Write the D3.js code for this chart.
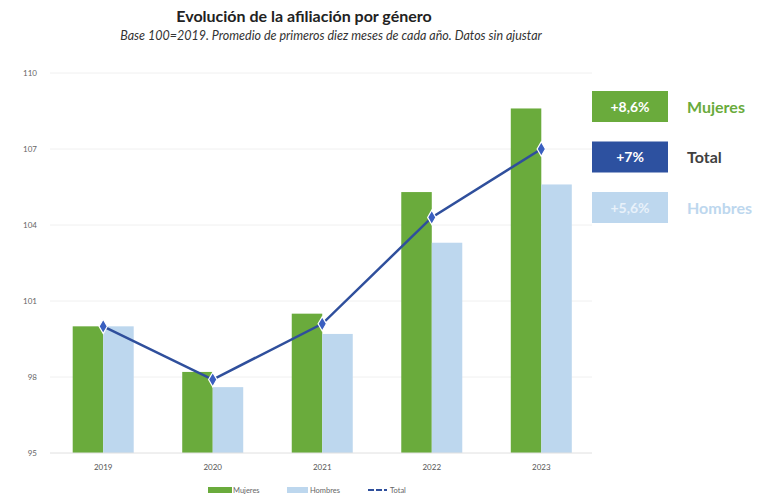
<!DOCTYPE html>
<html>
<head>
<meta charset="utf-8">
<script src="https://cdn.jsdelivr.net/npm/d3@7"></script>
<style>
  body { margin: 0; background: #fff; }
  text { font-family: Lato, "Open Sans", sans-serif; }
</style>
</head>
<body>
<svg id="chart" width="781" height="503"></svg>
<script>
var years = ['2019', '2020', '2021', '2022', '2023']
var mujeres = [100.0, 98.2, 100.5, 105.3, 108.6]
var hombres = [100.0, 97.6, 99.7, 103.3, 105.6]
var total = [100.0, 97.9, 100.1, 104.3, 107.0]
var yTicks = [95, 98, 101, 104, 107, 110]
var badges = [
  { value: '+8,6%', label: 'Mujeres', box: '#6aab3c', text: '#6aab3c', fg: '#fff' },
  { value: '+7%', label: 'Total', box: '#2d51a0', text: '#404040', fg: '#fff' },
  { value: '+5,6%', label: 'Hombres', box: '#bdd7ee', text: '#bdd7ee', fg: '#e8f1fa' }
]

var green = '#6aab3c'
var lightBlue = '#bdd7ee'
var darkBlue = '#2f4f9c'

var svg = d3.select('#chart')

var x = d3.scaleBand().domain(years).range([48.5, 596]).paddingInner(0.443).paddingOuter(0.221)
var sub = d3.scaleBand().domain(['m', 'h']).range([0, x.bandwidth()])
var y = d3.scaleLinear().domain([95, 110]).range([453, 73])

// title
svg.append('text').attr('x', 304).attr('y', 22).attr('text-anchor', 'middle')
  .attr('font-size', 16).attr('font-weight', 'bold').attr('fill', '#222')
  .text('Evolución de la afiliación por género')
svg.append('text').attr('x', 331).attr('y', 40).attr('text-anchor', 'middle')
  .attr('font-size', 12.5).attr('font-style', 'italic').attr('fill', '#333')
  .text('Base 100=2019. Promedio de primeros diez meses de cada año. Datos sin ajustar')

// grid
svg.append('g').selectAll('line').data(yTicks.slice(1)).enter().append('line')
  .attr('x1', 50).attr('x2', 592)
  .attr('y1', function (d) { return y(d) }).attr('y2', function (d) { return y(d) })
  .attr('stroke', '#f0f0f0').attr('stroke-width', 1)

// y axis labels
svg.append('g').selectAll('text').data(yTicks).enter().append('text')
  .attr('x', 37).attr('y', function (d) { return y(d) + 3 })
  .attr('text-anchor', 'end').attr('font-size', 8).attr('fill', '#666')
  .text(function (d) { return d })

// bars
var groups = svg.append('g').selectAll('g').data(years).enter().append('g')
  .attr('transform', function (d) { return 'translate(' + x(d) + ',0)' })
groups.append('rect')
  .attr('x', sub('m')).attr('width', sub.bandwidth())
  .attr('y', function (d, i) { return y(mujeres[i]) })
  .attr('height', function (d, i) { return y(95) - y(mujeres[i]) })
  .attr('fill', green)
groups.append('rect')
  .attr('x', sub('h')).attr('width', sub.bandwidth())
  .attr('y', function (d, i) { return y(hombres[i]) })
  .attr('height', function (d, i) { return y(95) - y(hombres[i]) })
  .attr('fill', lightBlue)

// baseline
svg.append('line').attr('x1', 50).attr('x2', 592).attr('y1', y(95)).attr('y2', y(95))
  .attr('stroke', '#e0e0e0')

// x labels
svg.append('g').selectAll('text').data(years).enter().append('text')
  .attr('x', function (d) { return x(d) + x.bandwidth() / 2 }).attr('y', 470)
  .attr('text-anchor', 'middle').attr('font-size', 8).attr('fill', '#555')
  .text(function (d) { return d })

// total line
var line = d3.line()
  .x(function (d, i) { return x(years[i]) + x.bandwidth() / 2 })
  .y(function (d) { return y(d) })
svg.append('path').datum(total).attr('d', line)
  .attr('fill', 'none').attr('stroke', darkBlue).attr('stroke-width', 2.5)
svg.append('g').selectAll('path').data(total).enter().append('path')
  .attr('d', d3.symbol().type(d3.symbolDiamond).size(60))
  .attr('transform', function (d, i) { return 'translate(' + (x(years[i]) + x.bandwidth() / 2) + ',' + y(d) + ')' })
  .attr('fill', '#3a5fc0').attr('stroke', '#fff').attr('stroke-width', 1.2)

// right badges
var badge = svg.append('g').selectAll('g').data(badges).enter().append('g')
  .attr('transform', function (d, i) { return 'translate(592,' + (91 + i * 50.5) + ')' })
badge.append('rect').attr('width', 76).attr('height', 31).attr('fill', function (d) { return d.box })
badge.append('text').attr('x', 38).attr('y', 20.5).attr('text-anchor', 'middle')
  .attr('font-size', 14).attr('font-weight', 'bold').attr('fill', function (d) { return d.fg })
  .text(function (d) { return d.value })
badge.append('text').attr('x', 95).attr('y', 21.5).attr('font-size', 16).attr('font-weight', 'bold')
  .attr('fill', function (d) { return d.text })
  .text(function (d) { return d.label })

// bottom legend
var leg = svg.append('g').attr('transform', 'translate(0,490)')
leg.append('rect').attr('x', 208).attr('y', -3).attr('width', 24).attr('height', 6).attr('fill', green)
leg.append('text').attr('x', 233).attr('y', 3).attr('font-size', 7.5).attr('fill', '#666').text('Mujeres')
leg.append('rect').attr('x', 287).attr('y', -3).attr('width', 21).attr('height', 6).attr('fill', lightBlue)
leg.append('text').attr('x', 310).attr('y', 3).attr('font-size', 7.5).attr('fill', '#666').text('Hombres')
leg.append('line').attr('x1', 368).attr('x2', 387).attr('y1', 0).attr('y2', 0)
  .attr('stroke', darkBlue).attr('stroke-width', 2).attr('stroke-dasharray', '6,2')
leg.append('text').attr('x', 390).attr('y', 3).attr('font-size', 7.5).attr('fill', '#666').text('Total')
</script>
</body>
</html>
